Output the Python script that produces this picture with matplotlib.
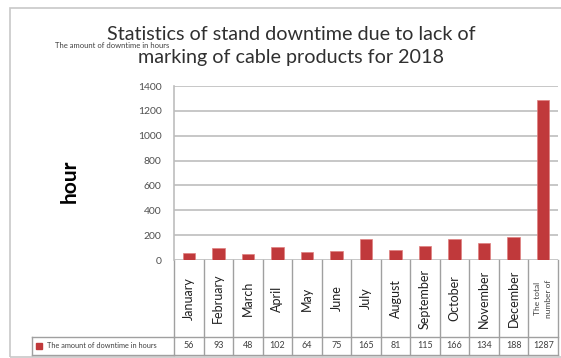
import matplotlib.pyplot as plt
import matplotlib.transforms as mtransforms
from matplotlib.lines import Line2D
from matplotlib.patches import Rectangle

plt.rcParams['font.family'] = ['Lato', 'DejaVu Sans']

# data
months = ["January", "February", "March", "April", "May", "June", "July",
          "August", "September", "October", "November", "December",
          "The total\nnumber of"]
hours = [56, 93, 48, 102, 64, 75, 165, 81, 115, 166, 134, 188, 1287]
series_name = "The amount of downtime in hours"
title_lines = ["Statistics of stand downtime due to lack of",
               "marking of cable products for 2018"]

W, H = 561, 358
bar_col = '#c0393b'
grid_col = '#bdbdbd'
txt_col = '#404040'


def fx(px):
    return px / W


def fy(py):
    return 1 - py / H


fig = plt.figure(figsize=(W / 100, H / 100), dpi=100)
fig.patch.set_facecolor('white')

# outer frame
fig.add_artist(Rectangle((fx(10), fy(357)), 1.2, fy(8) - fy(357),
                         transform=fig.transFigure, fill=False,
                         edgecolor='#c8c8c8', lw=1.2))

ax_l, ax_r, ax_t, ax_b = 174, 558, 86, 260
ax = fig.add_axes([fx(ax_l), fy(ax_b), fx(ax_r - ax_l), fy(ax_t) - fy(ax_b)])

x = list(range(len(months)))
ax.bar(x, hours, width=0.42, color=bar_col, edgecolor='#e08080', lw=0.5, zorder=3)
ax.set_xlim(-0.5, len(months) - 0.5)
ax.set_ylim(0, 1400)
ax.set_yticks(range(0, 1401, 200))
ax.yaxis.grid(True, color=grid_col, lw=1.2)
ax.set_axisbelow(True)
ax.set_xticks([])
ax.tick_params(axis='y', length=0, labelsize=7.5, labelcolor='#505050', pad=9)
for s in ['top', 'right', 'bottom']:
    ax.spines[s].set_visible(False)
ax.spines['left'].set_color(grid_col)
ax.spines['left'].set_linewidth(1.2)

# table under the axes
trans = mtransforms.blended_transform_factory(ax.transData, ax.transAxes)
h_px = ax_b - ax_t
row1 = (ax_b - 337) / h_px
row2 = (ax_b - 355) / h_px
for i in range(len(months) + 1):
    ax.add_line(Line2D([i - 0.5, i - 0.5], [0, row2], transform=trans,
                       color='#a0a0a0', lw=1.0, clip_on=False))
ax.add_line(Line2D([-0.5, len(months) - 0.5], [row1, row1], transform=trans,
                   color='#a0a0a0', lw=1.0, clip_on=False))
ax.add_line(Line2D([-0.5, len(months) - 0.5], [row2, row2], transform=trans,
                   color='#a0a0a0', lw=1.0, clip_on=False))

for i, (m, v) in enumerate(zip(months, hours)):
    if i == len(months) - 1:
        ax.text(i, row1 / 2, m, transform=trans, rotation=90, ha='center',
                va='center', fontsize=6, color=txt_col, linespacing=1.6)
    else:
        ax.text(i, row1 / 2, m, transform=trans, rotation=90, ha='center',
                va='center', fontsize=9, color='#202020')
    ax.text(i, (row1 + row2) / 2, str(v), transform=trans, ha='center',
            va='center', fontsize=6.5, color=txt_col)

# legend cell of the table
for xs, ys in [([32, ax_l], [337, 337]), ([32, ax_l], [355, 355]), ([32, 32], [337, 355])]:
    fig.add_artist(Line2D([fx(v) for v in xs], [fy(v) for v in ys],
                          transform=fig.transFigure, color='#a0a0a0', lw=1.0))
fig.add_artist(Rectangle((fx(36), fy(349)), fx(6), fy(343) - fy(349),
                         transform=fig.transFigure, color=bar_col))
fig.text(fx(47), fy(346), series_name, fontsize=5.3, color=txt_col, va='center')

# titles (two lines)
fig.text(fx(291), fy(40), title_lines[0], ha='center', va='baseline',
         fontsize=14.2, color='#303030')
fig.text(fx(291), fy(63), title_lines[1], ha='center', va='baseline',
         fontsize=14.2, color='#303030')
fig.text(fx(55), fy(45), series_name, fontsize=5.5, color=txt_col, va='center')
fig.text(fx(70), fy(181), "hour", rotation=90, ha='center', va='center',
         fontsize=15, fontweight='bold', color='black')

fig.savefig('out.png', dpi=100)
